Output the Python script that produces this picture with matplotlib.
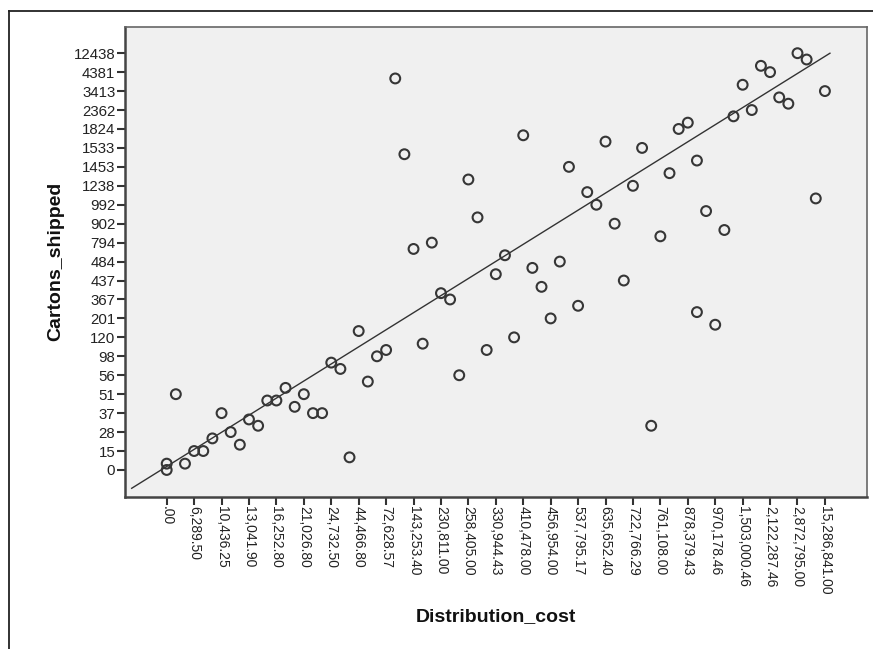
import matplotlib
matplotlib.use("Agg")
import matplotlib.pyplot as plt
from matplotlib.lines import Line2D
import numpy as np

plt.rcParams["font.family"] = ["Liberation Sans", "DejaVu Sans"]

# category labels shown on the axes (every third category is labelled)
cost_labels = [".00", "6,289.50", "10,436.25", "13,041.90", "16,252.80", "21,026.80",
               "24,732.50", "44,466.80", "72,628.57", "143,253.40", "230,811.00",
               "258,405.00", "330,944.43", "410,478.00", "456,954.00", "537,795.17",
               "635,652.40", "722,766.29", "761,108.00", "878,379.43", "970,178.46",
               "1,503,000.46", "2,122,287.46", "2,872,795.00", "15,286,841.00"]
carton_labels = ["0", "15", "28", "37", "51", "56", "98", "120", "201", "367", "437",
                 "484", "794", "902", "992", "1238", "1453", "1533", "1824", "2362",
                 "3413", "4381", "12438"]
label_step = 3

# category index of each case (Distribution_cost, Cartons_shipped)
cost_cat = [0, 0, 1, 2, 3, 4, 5, 6, 7, 8, 9, 10, 11, 12, 13, 14, 15, 16, 17, 18, 19,
            20, 21, 22, 23, 24, 25, 26, 27, 28, 29, 30, 31, 32, 33, 34, 35, 36, 37, 38,
            39, 40, 41, 42, 43, 44, 45, 46, 47, 48, 49, 50, 51, 52, 53, 54, 55, 56, 57,
            58, 58, 59, 60, 61, 62, 63, 64, 65, 66, 67, 68, 69, 70, 71, 72]
carton_cat = [0, 1, 12, 1, 3, 3, 5, 9, 6, 4, 8, 7, 11, 11, 13, 10, 12, 9, 9, 17, 16,
              2, 22, 14, 18, 19, 62, 50, 35, 20, 36, 28, 27, 15, 46, 40, 19, 31, 34, 21,
              53, 32, 29, 24, 33, 48, 26, 44, 42, 52, 39, 30, 45, 51, 7, 37, 47, 54, 55,
              49, 25, 41, 23, 38, 56, 61, 57, 64, 63, 59, 58, 66, 65, 43, 60]

# fit line (in category units)
fit_slope = 0.902
fit_intercept = 0.555
fit_span = [-3.83, 72.55]

fig = plt.figure(figsize=(8.73, 6.49), dpi=100)
ax = fig.add_axes([0.1432, 0.2347, 0.8499, 0.7242])
ax.set_facecolor("#f0f0f0")

ax.scatter(cost_cat, carton_cat, s=50, facecolors="none", edgecolors="#363636",
           linewidths=1.5, zorder=3)

fx = np.array(fit_span)
ax.plot(fx, fit_intercept + fit_slope * fx, color="#333333", linewidth=1.0, zorder=2)

ax.set_xlim(-4.56, 76.6)
ax.set_ylim(-4.23, 70.2)

ax.set_xticks(np.arange(len(cost_labels)) * label_step)
ax.set_xticklabels(cost_labels, rotation=-90, fontsize=10, color="#222222")
ax.set_yticks(np.arange(len(carton_labels)) * label_step)
ax.set_yticklabels(carton_labels, fontsize=10.8, color="#222222")
ax.tick_params(axis="both", direction="out", length=6, width=1.5, color="#333333")
ax.tick_params(axis="x", pad=1)
ax.tick_params(axis="y", pad=1)

for side in ["left", "bottom"]:
    ax.spines[side].set_linewidth(1.8)
    ax.spines[side].set_color("#444444")
for side in ["top", "right"]:
    ax.spines[side].set_linewidth(1.2)
    ax.spines[side].set_color("#666666")

ax.set_xlabel("Distribution_cost", fontsize=14, fontweight="bold", color="#111111")
ax.set_ylabel("Cartons_shipped", fontsize=14, fontweight="bold", color="#111111")
ax.xaxis.set_label_coords(0.5, -0.255)
ax.yaxis.set_label_coords(-0.094, 0.5)
ax.xaxis.label.set_va("center")
ax.yaxis.label.set_va("center")

# outer frame of the output window
fig.add_artist(Line2D([9 / 873, 1.0], [1 - 10.7 / 649, 1 - 10.7 / 649],
                      color="#222222", linewidth=1.3))
fig.add_artist(Line2D([9 / 873, 9 / 873], [0.0, 1 - 10.7 / 649],
                      color="#222222", linewidth=1.3))

fig.savefig("out.png", dpi=100)
plt.close(fig)
